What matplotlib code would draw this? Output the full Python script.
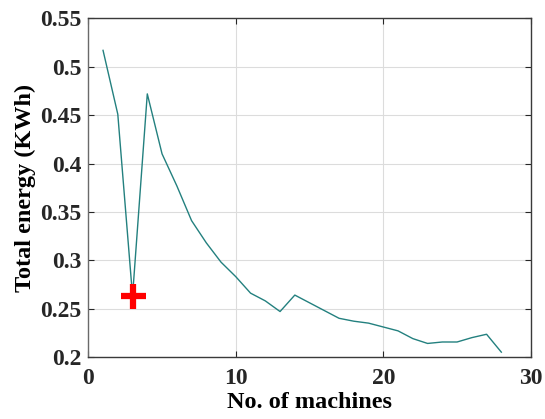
import matplotlib
matplotlib.use("Agg")
import matplotlib.pyplot as plt

machines = list(range(1, 29))
energy = [0.517, 0.451, 0.263, 0.472, 0.410, 0.377, 0.341, 0.318, 0.298, 0.283,
          0.266, 0.258, 0.247, 0.264, 0.256, 0.248, 0.240, 0.237, 0.235, 0.231,
          0.227, 0.219, 0.214, 0.2155, 0.2155, 0.220, 0.2235, 0.205]
best_x = [3]
best_y = [0.263]

plt.rcParams['font.family'] = ['Liberation Serif', 'DejaVu Serif']
plt.rcParams['font.weight'] = 'bold'

fig = plt.figure(figsize=(5.45, 4.19), dpi=100)
ax = fig.add_axes([0.162, 0.148, 0.812, 0.808])
ax.plot(machines, energy, color='#23807f', lw=1.0)
ax.plot(best_x, best_y, '+', color='red', ms=18, mew=4.5)
ax.set_xlim(0, 30)
ax.set_ylim(0.2, 0.55)
ax.set_xticks([0, 10, 20, 30])
ax.set_yticks([0.2, 0.25, 0.3, 0.35, 0.4, 0.45, 0.5, 0.55])
ax.set_yticklabels(['0.2', '0.25', '0.3', '0.35', '0.4', '0.45', '0.5', '0.55'])
ax.grid(True, color='#dcdcdc', lw=0.8)
ax.set_axisbelow(True)
ax.tick_params(direction='in', top=True, right=True, labelsize=17, colors='#262626', length=4)
ax.tick_params(axis='x', pad=8)
ax.tick_params(axis='y', pad=5)
for s in ax.spines.values():
    s.set_color('#3a3a3a')
    s.set_linewidth(1.0)
ax.spines['left'].set_color('#6a6a6a')
ax.set_xlabel('No. of machines', fontsize=17.5, fontweight='bold', labelpad=2)
ax.set_ylabel('Total energy (KWh)', fontsize=17.5, fontweight='bold', labelpad=3)
fig.savefig('out.png', dpi=100)
